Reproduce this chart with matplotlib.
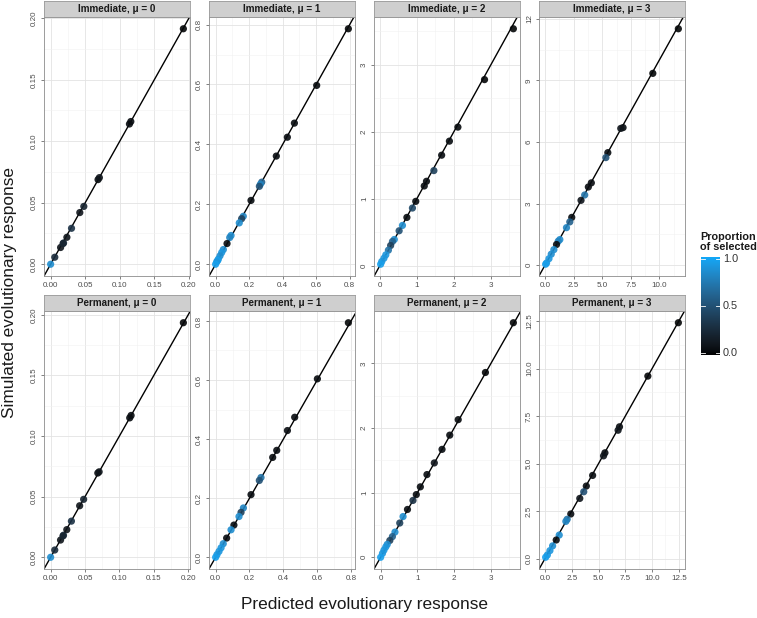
import numpy as np
import matplotlib
matplotlib.use("Agg")
import matplotlib.pyplot as plt
from matplotlib.colors import LinearSegmentedColormap
from matplotlib.ticker import MultipleLocator, FormatStrFormatter

plt.rcParams['font.family'] = ['Liberation Sans', 'DejaVu Sans']

# ---------------- data ----------------
treatments = ["Immediate", "Immediate", "Immediate", "Immediate",
              "Permanent", "Permanent", "Permanent", "Permanent"]
mus = [0, 1, 2, 3, 0, 1, 2, 3]

imm0_pred = [0.0, 0.006, 0.0144, 0.0187, 0.0180, 0.0235, 0.0302, 0.0422, 0.048, 0.0686, 0.0705, 0.114, 0.116, 0.192]
imm0_sim = [0.0, 0.0057, 0.0136, 0.0173, 0.0168, 0.0219, 0.0292, 0.042, 0.047, 0.0688, 0.0704, 0.114, 0.116, 0.1914]
imm0_prop = [0.85, 0.25, 0.1, 0.3, 0.2, 0.1, 0.3, 0.1, 0.2, 0.05, 0.1, 0.05, 0.05, 0.03]

imm1_pred = [0.792, 0.603, 0.470, 0.428, 0.362, 0.275, 0.267, 0.261, 0.211, 0.165, 0.155, 0.141,
             0.092, 0.084, 0.068, 0.046, 0.036, 0.026, 0.016, 0.012, 0.006, 0.0]
imm1_sim = [0.786, 0.597, 0.471, 0.424, 0.361, 0.274, 0.267, 0.260, 0.213, 0.160, 0.152, 0.138,
            0.096, 0.089, 0.069, 0.049, 0.039, 0.028, 0.017, 0.012, 0.008, 0.0]
imm1_prop = [0.03, 0.04, 0.05, 0.05, 0.05, 0.6, 0.8, 0.5, 0.05, 0.8, 0.4, 0.85,
             0.85, 0.8, 0.05, 0.85, 0.9, 0.85, 0.9, 0.95, 0.9, 0.95]

imm2_pred = [3.61, 2.83, 2.11, 1.88, 1.67, 1.46, 1.26, 1.20, 0.97, 0.88, 0.73, 0.61, 0.52,
             0.39, 0.34, 0.29, 0.23, 0.16, 0.11, 0.05, 0.02]
imm2_sim = [3.54, 2.78, 2.07, 1.86, 1.65, 1.42, 1.26, 1.19, 0.96, 0.86, 0.72, 0.60, 0.52,
            0.39, 0.36, 0.30, 0.23, 0.16, 0.11, 0.06, 0.02]
imm2_prop = [0.03, 0.03, 0.04, 0.05, 0.05, 0.4, 0.05, 0.05, 0.05, 0.45, 0.05, 0.85, 0.5,
             0.85, 0.6, 0.4, 0.7, 0.9, 0.9, 0.9, 0.95]

imm3_pred = [11.65, 9.42, 6.82, 6.62, 5.49, 5.32, 4.05, 3.79, 3.47, 3.15, 2.34, 2.17, 1.88,
             1.30, 1.16, 1.01, 0.78, 0.55, 0.35, 0.14, 0.06]
imm3_sim = [11.51, 9.34, 6.70, 6.66, 5.48, 5.24, 4.01, 3.81, 3.42, 3.16, 2.33, 2.11, 1.83,
            1.25, 1.17, 1.01, 0.76, 0.54, 0.32, 0.11, 0.05]
imm3_prop = [0.03, 0.03, 0.05, 0.1, 0.05, 0.5, 0.05, 0.05, 0.7, 0.1, 0.05, 0.6, 0.8,
             0.85, 0.8, 0.05, 0.85, 0.85, 0.9, 0.9, 0.95]

perm0_pred = [0.0, 0.006, 0.0144, 0.0187, 0.0180, 0.0235, 0.0302, 0.0422, 0.048, 0.0686, 0.0705, 0.115, 0.117, 0.193]
perm0_sim = [0.0, 0.006, 0.0142, 0.0182, 0.0176, 0.0228, 0.0298, 0.0425, 0.0478, 0.0695, 0.0705, 0.115, 0.117, 0.1935]
perm0_prop = [0.85, 0.25, 0.1, 0.3, 0.2, 0.1, 0.3, 0.1, 0.2, 0.05, 0.1, 0.05, 0.05, 0.03]

perm1_pred = [0.784, 0.601, 0.467, 0.424, 0.361, 0.337, 0.268, 0.258, 0.209, 0.164, 0.150, 0.138,
              0.108, 0.091, 0.065, 0.045, 0.032, 0.020, 0.008, 0.0]
perm1_sim = [0.794, 0.604, 0.474, 0.429, 0.362, 0.338, 0.270, 0.260, 0.212, 0.167, 0.152, 0.138,
             0.109, 0.093, 0.065, 0.046, 0.032, 0.020, 0.009, 0.0]
perm1_prop = [0.03, 0.04, 0.05, 0.05, 0.05, 0.05, 0.7, 0.5, 0.05, 0.8, 0.4, 0.85,
              0.05, 0.85, 0.05, 0.85, 0.9, 0.9, 0.9, 0.95]

perm2_pred = [3.61, 2.85, 2.11, 1.88, 1.67, 1.46, 1.26, 1.08, 0.97, 0.88, 0.73, 0.61, 0.52,
              0.39, 0.32, 0.25, 0.18, 0.14, 0.09, 0.05, 0.0]
perm2_sim = [3.63, 2.86, 2.13, 1.89, 1.67, 1.46, 1.28, 1.09, 0.97, 0.88, 0.74, 0.63, 0.53,
             0.39, 0.32, 0.26, 0.20, 0.16, 0.11, 0.06, 0.0]
perm2_prop = [0.03, 0.03, 0.04, 0.05, 0.05, 0.1, 0.05, 0.05, 0.05, 0.3, 0.05, 0.85, 0.4,
              0.85, 0.6, 0.4, 0.85, 0.9, 0.9, 0.9, 0.95]

perm3_pred = [12.46, 9.61, 6.96, 6.83, 5.60, 5.47, 4.45, 3.86, 3.62, 3.25, 2.41, 2.07, 1.95,
              1.33, 1.05, 0.71, 0.46, 0.22, 0.06]
perm3_sim = [12.42, 9.61, 6.94, 6.76, 5.57, 5.41, 4.38, 3.82, 3.52, 3.17, 2.35, 2.07, 1.96,
             1.24, 0.98, 0.67, 0.42, 0.19, 0.07]
perm3_prop = [0.03, 0.03, 0.05, 0.1, 0.05, 0.1, 0.05, 0.05, 0.5, 0.1, 0.05, 0.7, 0.8,
              0.85, 0.05, 0.85, 0.9, 0.9, 0.95]

x_tick_steps = [0.05, 0.2, 1, 2.5, 0.05, 0.2, 1, 2.5]
x_tick_fmts = ['%.2f', '%.1f', '%d', '%.1f', '%.2f', '%.1f', '%d', '%.1f']
y_tick_steps = [0.05, 0.2, 1, 3, 0.05, 0.2, 1, 2.5]
y_tick_fmts = ['%.2f', '%.1f', '%d', '%d', '%.2f', '%.1f', '%d', '%.1f']

preds = [imm0_pred, imm1_pred, imm2_pred, imm3_pred, perm0_pred, perm1_pred, perm2_pred, perm3_pred]
sims = [imm0_sim, imm1_sim, imm2_sim, imm3_sim, perm0_sim, perm1_sim, perm2_sim, perm3_sim]
props = [imm0_prop, imm1_prop, imm2_prop, imm3_prop, perm0_prop, perm1_prop, perm2_prop, perm3_prop]

# ---------------- colormap (Lab interpolation black -> blue) ----------------
def _f(t):
    d = 6 / 29
    return np.where(t > d ** 3, np.cbrt(t), t / (3 * d * d) + 4 / 29)

def _finv(t):
    d = 6 / 29
    return np.where(t > d, t ** 3, 3 * d * d * (t - 4 / 29))

M = np.array([[0.4124, 0.3576, 0.1805], [0.2126, 0.7152, 0.0722], [0.0193, 0.1192, 0.9505]])
WHITE = np.array([0.95047, 1.0, 1.08883])

def rgb_to_lab(rgb):
    c = np.asarray(rgb, float)
    lin = np.where(c <= 0.04045, c / 12.92, ((c + 0.055) / 1.055) ** 2.4)
    xyz = M @ lin / WHITE
    fx_, fy_, fz_ = _f(xyz)
    return np.array([116 * fy_ - 16, 500 * (fx_ - fy_), 200 * (fy_ - fz_)])

def lab_to_rgb(lab):
    L, a, b = lab
    fy_ = (L + 16) / 116
    fx_ = fy_ + a / 500
    fz_ = fy_ - b / 200
    xyz = np.array([_finv(fx_), _finv(fy_), _finv(fz_)]) * WHITE
    lin = np.linalg.solve(M, xyz)
    lin = np.clip(lin, 0, 1)
    c = np.where(lin <= 0.0031308, 12.92 * lin, 1.055 * lin ** (1 / 2.4) - 0.055)
    return np.clip(c, 0, 1)

high = np.array([0x12, 0xA8, 0xF8]) / 255
lab_hi = rgb_to_lab(high)
stops = [lab_to_rgb(lab_hi * t) for t in np.linspace(0, 1, 21)]
cmap = LinearSegmentedColormap.from_list("blk_blue", stops)

# ---------------- layout ----------------
W, H = 757, 618
fig = plt.figure(figsize=(W / 100, H / 100), dpi=100)
fig.patch.set_facecolor('white')

def fx(px):
    return px / W

def fy(py):
    return 1 - py / H

col_left = [44, 209, 374, 539]
pw = 146
rows = [(17, 276), (311, 569)]
strip_h = 16
grey_txt = '#4d4d4d'

for i in range(8):
    r, c = divmod(i, 4)
    top, bot = rows[r]
    ax = fig.add_axes([fx(col_left[c]), fy(bot), pw / W, (bot - top) / H])
    x = np.array(preds[i]); y = np.array(sims[i])
    xr = x.max() - x.min(); yr = y.max() - y.min()
    ax.set_xlim(x.min() - 0.05 * xr, x.max() + 0.05 * xr)
    ax.set_ylim(y.min() - 0.05 * yr, y.max() + 0.05 * yr)
    ax.set_facecolor('white')
    ax.xaxis.set_major_locator(MultipleLocator(x_tick_steps[i]))
    ax.xaxis.set_minor_locator(MultipleLocator(x_tick_steps[i] / 2))
    ax.yaxis.set_major_locator(MultipleLocator(y_tick_steps[i]))
    ax.yaxis.set_minor_locator(MultipleLocator(y_tick_steps[i] / 2))
    ax.xaxis.set_major_formatter(FormatStrFormatter(x_tick_fmts[i]))
    ax.yaxis.set_major_formatter(FormatStrFormatter(y_tick_fmts[i]))
    ax.grid(which='major', color='#e3e3e3', lw=0.6, zorder=0)
    ax.grid(which='minor', color='#f1f1f1', lw=0.4, zorder=0)
    ax.set_axisbelow(True)
    ax.tick_params(which='major', length=2.5, width=0.5, color=grey_txt,
                   labelsize=5.8, labelcolor=grey_txt, pad=1.8)
    ax.tick_params(which='minor', length=0)
    ax.tick_params(axis='y', labelrotation=90)
    for lab in ax.get_yticklabels():
        lab.set_va('center')
    for sp in ax.spines.values():
        sp.set_color('#8c8c8c')
        sp.set_linewidth(0.6)
    ax.axline((0, 0), slope=1, color='black', lw=1.0, zorder=2)
    ax.scatter(x, y, c=props[i], cmap=cmap, vmin=0, vmax=1, s=27,
               linewidths=0, alpha=0.9, zorder=3)

    sax = fig.add_axes([fx(col_left[c]), fy(top), pw / W, strip_h / H])
    sax.set_facecolor('#cfcfcf')
    sax.set_xticks([]); sax.set_yticks([])
    for sp in sax.spines.values():
        sp.set_color('#9a9a9a')
        sp.set_linewidth(0.6)
    sax.text(0.5, 0.5, f"{treatments[i]}, \u03bc = {mus[i]}", transform=sax.transAxes,
             ha='center', va='center', fontsize=7.1, fontweight='bold', color='#1a1a1a')

fig.text(fx(364.5), fy(604), "Predicted evolutionary response", ha='center', va='center',
         fontsize=12.4, color='#1a1a1a')
fig.text(fx(10), fy(293), "Simulated evolutionary response", ha='center', va='center',
         rotation=90, fontsize=12.4, color='#1a1a1a')

# ---------------- colorbar legend ----------------
cax = fig.add_axes([fx(701), fy(355), 19 / W, 98 / H])
cax.imshow(np.linspace(0, 1, 256)[:, None], aspect='auto', cmap=cmap, origin='lower',
           extent=[0, 1, -0.02, 1.02])
cax.set_xlim(0, 1); cax.set_ylim(-0.02, 1.02)
cax.set_xticks([]); cax.set_yticks([])
for sp in cax.spines.values():
    sp.set_visible(False)
for v in [0.0, 0.5, 1.0]:
    cax.plot([0, 0.2], [v, v], color='white', lw=0.6)
    cax.plot([0.8, 1], [v, v], color='white', lw=0.6)
    cax.text(1.15, v, f"{v:.1f}", transform=cax.transData, ha='left', va='center',
             fontsize=7.8, color='#333333', clip_on=False)
fig.text(fx(700), fy(232), "Proportion\nof selected", ha='left', va='top', fontsize=7.8,
         fontweight='bold', color='#1a1a1a', linespacing=1.0)

fig.savefig("out.png", dpi=100, facecolor='white')
